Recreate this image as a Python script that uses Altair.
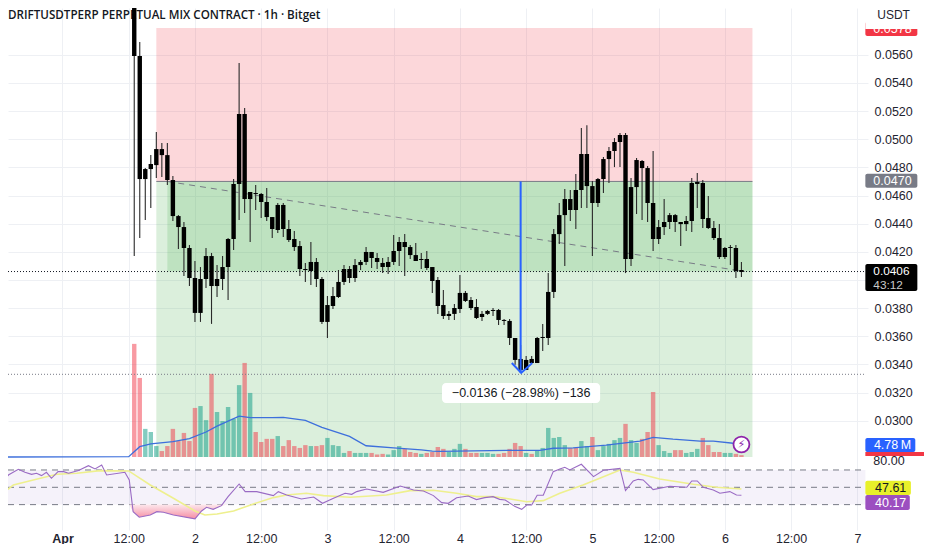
import altair as alt
import pandas as pd

# Candles: one per hour, starting Apr 1 13:00. Prices in units of 0.00001 USDT.
first_hour = 13
high = [6130,5690,4795,4887,5051,4973,4973,4738,4461,4412,4248,4135,4092,4227,4192,4106,4170,4298,4717,5541,5221,4625,4675,4618,4653,4447,4547,4547,4426,4348,4277,4121,4270,4156,4021,3886,3950,4071,4106,4099,4149,4142,4234,4199,4192,4156,4163,4319,4305,4326,4248,4263,4192,4206,4092,4021,3929,3780,3830,4035,3922,3879,3865,3780,3787,3801,3794,3723,3723,3588,3538,3460,3460,3595,3687,4049,4362,4547,4646,4639,4753,5079,5100,4703,4724,4873,4944,5008,5044,5044,4724,4866,4852,4809,4916,4426,4575,4476,4469,4412,4454,4724,4760,4710,4596,4419,4397,4234,4248,4248,4128]
body_top = [6130,5591,4788,4824,4930,4930,4887,4710,4454,4376,4227,4014,4007,4170,4170,4007,4092,4291,4682,5179,5179,4625,4618,4611,4554,4447,4533,4533,4362,4291,4241,4078,4128,4128,4007,3822,3886,3986,4078,4078,4106,4128,4199,4199,4156,4121,4128,4206,4270,4270,4234,4177,4149,4149,4092,4000,3822,3759,3801,3908,3908,3858,3808,3759,3780,3787,3787,3716,3709,3588,3439,3432,3439,3588,3595,3915,4326,4461,4575,4575,4639,4895,4895,4667,4717,4859,4916,4980,5030,5030,4660,4852,4845,4795,4547,4376,4412,4461,4461,4412,4419,4689,4696,4689,4440,4369,4298,4227,4234,4227,4071]
body_bottom = [5591,4717,4717,4788,4816,4887,4710,4454,4376,4227,4014,3766,3766,4007,3957,3957,4007,4092,4291,4682,4575,4575,4611,4554,4447,4362,4355,4362,4284,4234,4078,4071,4064,4007,3702,3702,3815,3879,3986,4014,4014,4106,4128,4156,4128,4092,4092,4128,4206,4234,4177,4135,4142,4085,3993,3815,3744,3744,3759,3794,3851,3801,3730,3737,3759,3780,3716,3709,3588,3432,3361,3361,3410,3410,3588,3588,3915,4326,4461,4497,4497,4639,4667,4547,4547,4717,4859,4916,4980,4149,4149,4660,4795,4547,4291,4291,4376,4412,4412,4397,4397,4419,4682,4433,4369,4298,4163,4163,4227,4064,4057]
low = [4170,4298,4426,4511,4724,4731,4675,4419,4220,4028,3957,3702,3702,3943,3688,3879,3929,3858,4213,4426,4476,4270,4497,4440,4419,4298,4334,4305,4270,4206,4028,3986,3964,3950,3688,3588,3794,3872,3964,3979,3986,4071,4106,4085,4078,4049,4042,4106,4099,4028,4149,4135,4078,4071,3908,3759,3723,3716,3716,3766,3844,3787,3723,3709,3752,3744,3681,3681,3538,3397,3339,3361,3410,3410,3496,3538,3872,4255,4099,4419,4362,4511,4511,4170,4518,4618,4689,4802,4802,4049,4099,4469,4426,4412,4206,4255,4319,4362,4341,4241,4348,4341,4511,4369,4362,4284,4149,4149,4106,4014,4021]

# Volume in millions, with the side of each bar.
volume = [36.2,25.3,9.0,8.0,3.5,1.9,3.5,9.0,5.1,7.7,5.1,15.7,16.3,11.8,26.6,14.4,11.5,16.0,12.2,23.0,30.1,20.5,8.0,4.8,5.8,5.8,6.7,3.5,5.4,3.5,2.9,3.8,3.5,3.5,3.8,6.1,3.8,3.5,1.3,1.9,1.3,1.3,1.3,1.3,0.8,1.0,0.8,2.2,3.5,2.6,1.6,1.3,1.0,1.3,1.6,3.2,2.6,1.6,2.6,4.2,2.6,1.3,1.3,1.3,1.3,1.0,1.0,1.3,2.6,4.5,3.5,1.3,1.0,2.2,2.9,9.3,6.1,6.4,3.8,2.9,2.9,5.1,3.5,6.4,2.2,3.5,4.2,5.4,6.1,10.6,5.4,4.5,5.8,8.0,20.8,3.8,1.9,1.3,2.2,2.2,1.3,1.6,2.6,6.1,3.8,1.6,1.6,1.3,1.3,1.0,0.6]
volume_side = list("rrgggrrrrr" "rrggrggggg" "rgrrrrgrrr" "rrgrrggggr" "gggrrrgggr" "rrgrrrrggg"
                   "rrrgggrrrr" "rgrggggggr" "rggrgggggr" "ggrrrgggrr" "gggrrrrggrr")

ma_hours = [-9.87,12,14,16,20,23,26,28,32,34,38,40,44,47,52,55,60,65,67,68.4,80.5,86.5,88.9,92.5,98.5,104.6,107,110.6,115.5,117.9,121.5,123]
ma_values = [0,0.1,3.3,4.2,4.9,5.9,8.0,9.9,13.1,12.6,12.6,12.7,11.7,9.5,6.6,3.6,2.9,2.3,1.9,1.8,2.1,2.1,2.8,2.9,3.8,5.1,6.3,5.7,5.1,5.1,4.4,4.7]

rsi_hours = [-9.87,-9.8,-8.0,-6.8,-5.6,-4.7,-3.8,-2.9,-2.0,-0.8,0.2,1.1,2.9,4.7,5.9,7.1,8.0,11.3,12.1,12.8,13.9,15.9,17.1,18.3,20.1,24.0,25.2,26.1,27.3,28.8,30.0,32.0,33.1,35.2,38.2,39.1,40.6,43.3,45.5,47.1,49.1,51.2,52.4,53.3,55.1,58.1,61.2,63.6,65.4,67.2,68.7,69.9,71.4,73.5,75.0,76.5,78.0,79.2,80.2,82.0,83.2,84.1,85.0,86.0,87.1,88.9,90.1,91.0,91.9,94.0,96.2,98.0,101.0,102.0,103.4,104.3,105.2,107.0,110.0,113.1,114.0,115.0,116.1,117.9,119.1,120.9,122.1,123.0]
rsi_values = [63.1,64.2,70.8,67.3,65.0,66.2,63.5,67.3,60.4,68.1,68.1,66.2,69.3,75.0,71.2,75.8,64.2,67.3,58.5,21.9,15.4,18.1,21.9,21.2,18.1,13.5,22.7,26.9,24.6,28.8,39.2,53.8,45.0,45.0,40.4,45.0,41.2,36.5,38.8,31.5,37.3,43.1,41.9,45.0,48.1,44.2,51.5,46.9,45.8,40.4,32.3,31.5,38.0,40.0,35.8,38.1,39.2,36.1,35.4,27.7,24.6,29.6,29.6,40.8,40.8,68.1,71.2,73.1,70.0,76.6,62.3,69.6,71.9,46.2,57.3,59.2,58.5,47.3,51.2,50.0,57.3,57.3,50.0,46.9,43.1,45.0,41.1,40.8]
rsi_ma_hours = [-9.87,-8.9,-5.3,-1.0,2.6,6.8,12.0,15.9,20.1,24.0,25.8,28.0,31.0,34.6,38.2,40.6,44.2,47.3,52.1,58.7,63.0,67.2,71.4,75.0,78.0,81.1,84.1,87.1,90.1,94.3,98.0,101.0,103.4,108.2,114.3,118.5,123.0]
rsi_ma_values = [47.7,52.7,58.5,65.0,66.2,69.3,68.9,52.7,37.3,22.7,18.0,19.2,22.7,30.8,38.1,41.1,43.1,40.4,38.5,41.1,46.2,46.5,43.1,39.2,39.2,36.5,33.4,34.6,43.1,52.7,62.3,70.0,67.3,59.6,53.5,50.0,48.1]

tick_hours = [0,12,24,36,48,60,72,84,96,108,120,132,144]
price_ticks = [0.030,0.032,0.034,0.036,0.038,0.040,0.042,0.044,0.046,0.048,0.050,0.052,0.054,0.056]

entry, stop_top, current, target = 0.0470, 0.0579, 0.0406, 0.0333

FONT = "Liberation Sans"
xs = alt.Scale(domain=[-9.87, 145.93], nice=False, zero=False)
xaxis = alt.Axis(values=tick_hours, title=None, grid=True, gridColor="#eef0f4", domain=False, ticks=False,
                 labelExpr="datum.value==0?'Apr':(datum.value%24==12?'12:00':''+(1+datum.value/24))",
                 labelFontWeight={"condition": {"test": "datum.value==0", "value": "bold"}, "value": "normal"},
                 labelFont=FONT, labelFontSize=12.5, labelColor="#1f2430", labelPadding=2,
                 labelOverlap=False, labelFlush=False)
ps = alt.Scale(domain=[0.02224, 0.05932], range=[522, 0], nice=False, zero=False)
vs = alt.Scale(domain=[0, 100], range=[449, 136.5], nice=False, zero=False)
rs = alt.Scale(domain=[0, 100], range=[522.6, 436], nice=False, zero=False)


def X(f):
    return alt.X(f, type="quantitative", scale=xs, axis=xaxis)


def Y(f, scale=ps):
    return alt.Y(f, type="quantitative", scale=scale, axis=None)


def rect(h0, h1, p0, p1, color, scale=ps, **kw):
    d = pd.DataFrame({"a": [h0], "b": [h1], "c": [p0], "d": [p1]})
    return alt.Chart(d).mark_rect(color=color, **kw).encode(x=X("a"), x2="b", y=Y("c", scale), y2="d")


def line(hs, vals, color, scale=ps, **kw):
    d = pd.DataFrame({"h": hs, "v": vals, "o": range(len(hs))})
    return alt.Chart(d).mark_line(color=color, **kw).encode(x=X("h"), y=Y("v", scale), order="o:Q")


def label(h, p, text, color="#1f2430", scale=ps, **kw):
    d = pd.DataFrame({"h": [h], "p": [p], "t": [text]})
    kw.setdefault("font", FONT)
    kw.setdefault("fontSize", 12.5)
    kw.setdefault("align", "left")
    return alt.Chart(d).mark_text(color=color, baseline="middle", **kw).encode(x=X("h"), y=Y("p", scale), text="t:N")


n = len(high)
candles = pd.DataFrame({
    "h": [first_hour + i for i in range(n)],
    "high": [v / 1e5 for v in high], "low": [v / 1e5 for v in low],
    "top": [v / 1e5 for v in body_top], "bottom": [v / 1e5 for v in body_bottom],
    "vol": volume, "side": volume_side,
})
base = alt.Chart(candles)

# Price axis carrier (gives horizontal grid and tick labels)
price_axis = alt.Chart(pd.DataFrame({"h": [0], "p": [0.04]})).mark_point(opacity=0).encode(
    x=X("h"),
    y=alt.Y("p:Q", scale=ps, axis=alt.Axis(
        orient="right", values=price_ticks, title=None, grid=True, gridColor="#eef0f4", domain=False, ticks=False,
        labelExpr="abs(datum.value-0.04)<0.0001?'':format(datum.value,'.4f')",
        labelFont=FONT, labelFontSize=12.5, labelColor="#1f2430", labelPadding=6)),
)

title = label(-9.87, 0.05872, "DRIFTUSDTPERP PERPETUAL MIX CONTRACT \u00b7 1h \u00b7 Bitget", color="#131722",
              font="Open Sans", fontSize=11.65, fontWeight=600)

zones = [
    rect(17, 125, stop_top, entry, "#f23645", opacity=0.2),
    rect(17, 125, entry, 0.02742, "#4caf50", opacity=0.2),
    rect(19, 125, entry, current, "#4caf50", opacity=0.2),
    line([17, 125], [entry, entry], "#787b86", strokeWidth=1),
]

vol_bars = base.mark_rule(strokeWidth=4.4, opacity=0.5).encode(
    x=X("h"),
    y=alt.Y("vol:Q", scale=vs, axis=None), y2=alt.Y2(datum=0),
    color=alt.Color("side:N", scale=alt.Scale(domain=["r", "g"], range=["#f23645", "#089981"]), legend=None),
)
vol_ma = line(ma_hours, ma_values, "#3d6fdc", scale=vs, strokeWidth=1.3)

levels = [
    line([-9.87, 145.45], [current, current], "#131722", strokeWidth=1, strokeDash=[1, 2]),
    line([-9.87, 145.45], [target, target], "#787b86", strokeWidth=1, strokeDash=[1, 2]),
    line([19, 123.6], [entry, current], "#787b86", strokeWidth=1, strokeDash=[6, 5]),
]

wicks = base.mark_rule(color="#2a2a2a", strokeWidth=1.1).encode(x=X("h"), y=Y("high"), y2="low")
bodies = base.mark_rule(color="#000000", strokeWidth=4.4).encode(x=X("h"), y=Y("top"), y2="bottom")

arrow = [
    line([83, 83], [entry, 0.0334], "#2962ff", strokeWidth=2),
    line([81.4, 83.1, 85.1], [0.03410, 0.03340, 0.03410], "#2962ff", strokeWidth=2),
]
box = [
    rect(68.75, 97.4, 0.03268, 0.03126, "#ffffff", cornerRadius=4),
    label(83.1, 0.03197, "\u22120.0136 (\u221228.98%) \u2212136", align="center", fontSize=12.5, color="#131722"),
]

bolt_d = pd.DataFrame({"h": [123], "v": [4.0]})
bolt = [
    alt.Chart(bolt_d).mark_point(shape="circle", size=254, filled=True, fill="#ffffff", stroke="#8e24aa",
                                 strokeWidth=1.8, opacity=1).encode(x=X("h"), y=Y("v", vs)),
    label(123, 4.0, "\u26a1", color="#8e24aa", scale=vs, align="center", font="DejaVu Sans", fontSize=11),
]

r_band = [
    rect(-9.87, 145.45, 70, 30, "#7e57c2", scale=rs, opacity=0.08),
] + [line([-9.87, 145.45], [v, v], "#787b86", scale=rs, strokeWidth=1, strokeDash=[6, 5]) for v in (70, 50, 30)]

under = pd.DataFrame({"h": rsi_hours, "v": rsi_values})
under = under[(under.h >= 12.1) & (under.h <= 30)].assign(v=lambda d: d.v.clip(upper=30), t=30)
r_fill = alt.Chart(under).mark_area(
    color=alt.Gradient(gradient="linear", stops=[alt.GradientStop(color="#fde7ec", offset=0),
                                                 alt.GradientStop(color="#f58da3", offset=1)],
                       x1=0, x2=0, y1=0, y2=1)
).encode(x=X("h"), y=Y("v", rs), y2="t")
r_lines = [
    line(rsi_ma_hours, rsi_ma_values, "#eef08e", scale=rs, strokeWidth=1.6),
    line(rsi_hours, rsi_values, "#9a6bc4", scale=rs, strokeWidth=1.1),
]

badges = [
    rect(145.45, 154.87, 0.05832, 0.05733, "#f23645", cornerRadius=2),
    label(146.9, 0.05782, "0.0578", color="#ffffff"),
    rect(145.45, 157, 0.05932, 0.05782, "#ffffff"),
    label(147.6, 0.05882, "USDT", color="#1f2430", fontSize=12),
    rect(145.45, 154.87, 0.04755, 0.04655, "#787b86", cornerRadius=2),
    label(146.9, 0.0470, "0.0470", color="#ffffff"),
    rect(145.45, 154.87, 0.04114, 0.03922, "#000000", cornerRadius=2),
    label(146.9, 0.04065, "0.0406", color="#ffffff", fontSize=11.8),
    label(146.9, 0.03962, "43:12", color="#c8c8c8", fontSize=11.8),
    rect(145.45, 154.5, 6.08, 1.6, "#2962ff", scale=vs, cornerRadius=2),
    label(147, 3.84, "4.78\u2009M", color="#ffffff", scale=vs),
    rect(145.45, 156.9, 1.6, 0.32, "#f23645", scale=vs),
    label(146.9, 80, "80.00", color="#1f2430", scale=rs),
    rect(145.45, 153.7, 57.5, 41, "#e8f02a", scale=rs, cornerRadius=2),
    label(147.2, 49, "47.61", color="#131722", scale=rs),
    rect(145.45, 153.5, 41, 23.7, "#9c4fc0", scale=rs, cornerRadius=2),
    label(147.2, 32.4, "40.17", color="#ffffff", scale=rs),
]

layers = ([price_axis, title] + zones + [vol_bars, vol_ma] + levels + [wicks, bodies] + arrow + box + bolt
          + r_band + [r_fill] + r_lines + badges)

chart = alt.layer(*layers).resolve_scale(y="independent").properties(
    width=860, height=522,
    padding={"left": 0, "top": 0, "right": 56, "bottom": 14},
    autosize=alt.AutoSizeParams(type="none"),
    background="#ffffff",
).configure_view(stroke=None)

chart.save("out.html", embed_options={"renderer": "svg", "actions": False})
